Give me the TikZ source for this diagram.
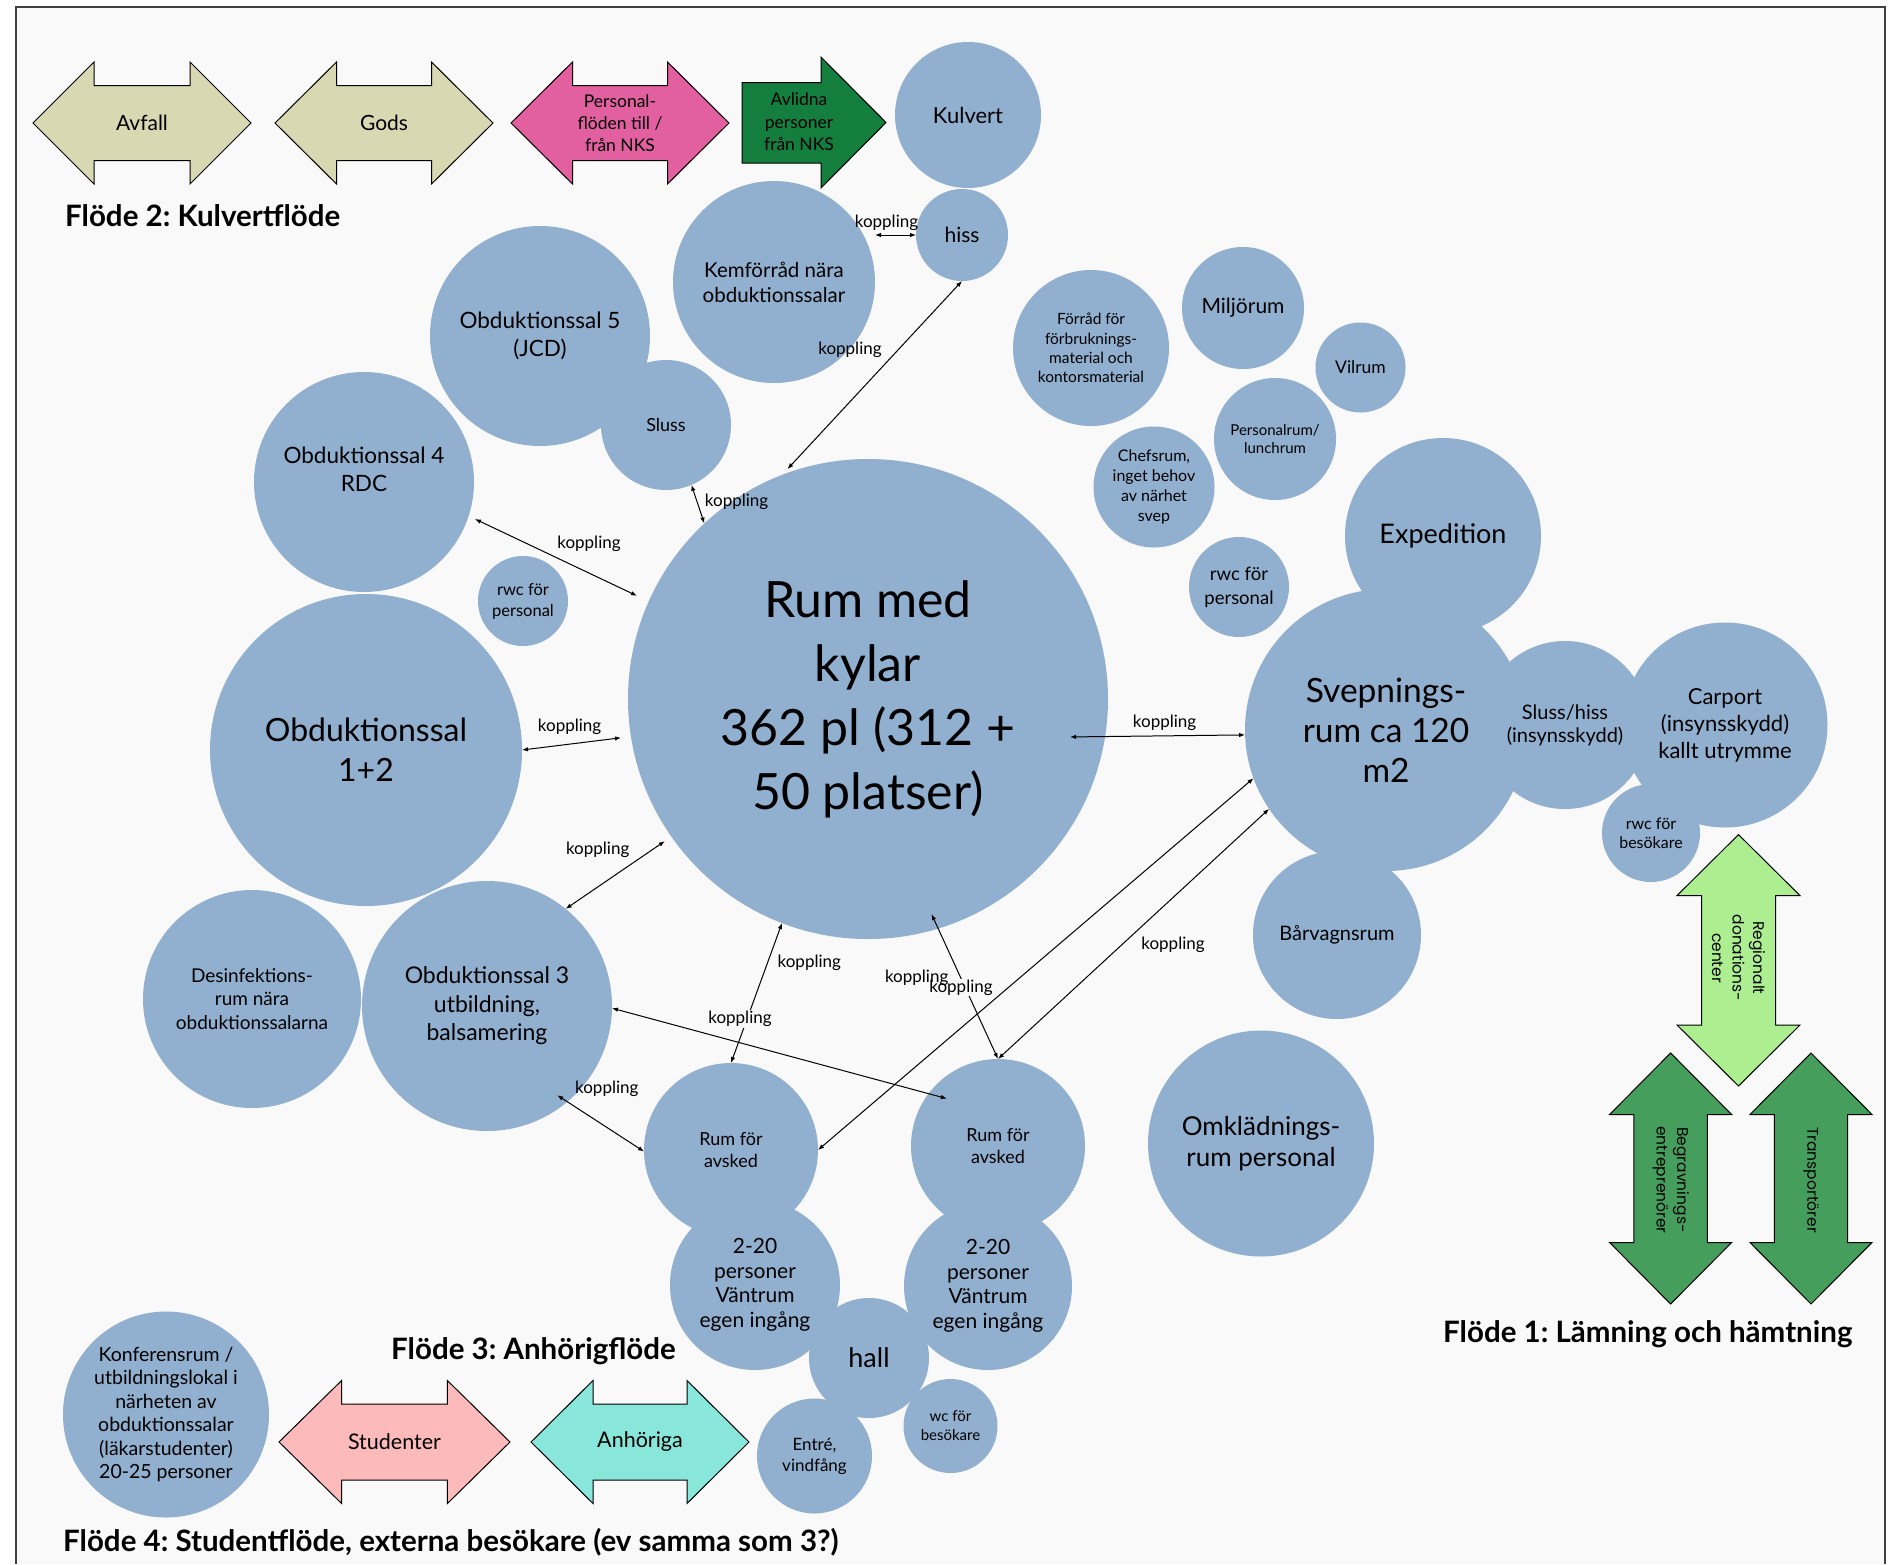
\documentclass[tikz,border=0pt]{standalone}
\usepackage{fontspec}
\setmainfont{Lato}
\newfontfamily\arrfont{Poppins}
\usetikzlibrary{arrows.meta,calc}
\definecolor{roomblue}{RGB}{145,175,206}
\definecolor{bgc}{RGB}{249,249,249}
\definecolor{khaki}{RGB}{216,216,178}
\definecolor{pinkA}{RGB}{227,96,160}
\definecolor{dkgreen}{RGB}{19,126,62}
\definecolor{ltgreen}{RGB}{172,238,144}
\definecolor{midgreen}{RGB}{70,158,92}
\definecolor{studpink}{RGB}{252,186,186}
\definecolor{tealA}{RGB}{136,230,218}
\newcommand\fz[2]{\fontsize{#1}{#2}\selectfont}
\newcommand\harr[7]{\draw[shapeline,fill=#7] ({#1-#3},#2) -- ({#1-#3+#4},{#2-#5}) -- ({#1-#3+#4},{#2-#6}) -- ({#1+#3-#4},{#2-#6}) -- ({#1+#3-#4},{#2-#5}) -- ({#1+#3},#2) -- ({#1+#3-#4},{#2+#5}) -- ({#1+#3-#4},{#2+#6}) -- ({#1-#3+#4},{#2+#6}) -- ({#1-#3+#4},{#2+#5}) -- cycle;}
\newcommand\varr[7]{\draw[shapeline,fill=#7] (#1,{#2-#3}) -- ({#1+#5},{#2-#3+#4}) -- ({#1+#6},{#2-#3+#4}) -- ({#1+#6},{#2+#3-#4}) -- ({#1+#5},{#2+#3-#4}) -- (#1,{#2+#3}) -- ({#1-#5},{#2+#3-#4}) -- ({#1-#6},{#2+#3-#4}) -- ({#1-#6},{#2-#3+#4}) -- ({#1-#5},{#2-#3+#4}) -- cycle;}
\frenchspacing
\begin{document}
\begin{tikzpicture}[x=1pt,y=-1pt,
  room/.style={circle,fill=roomblue,draw=none,inner sep=0pt,outer sep=0pt,minimum size=#1},
  txt/.style={align=center,inner sep=0pt,text=black},
  shapeline/.style={draw=black,line width=1pt,line join=miter},
  conn/.style={draw=black,line width=1pt,{Latex[length=6pt,width=4.5pt]}-{Latex[length=6pt,width=4.5pt]}},
  lbl/.style={inner sep=1pt,text=black,font={\fz{17}{20}}},
  lblf/.style={lbl,fill=bgc},
  title/.style={anchor=west,inner sep=0pt,text=black,font={\bfseries\fz{29.5}{34}}}]
\useasboundingbox (0,0) rectangle (1896,1564);
\fill[white] (0,0) rectangle (1896,1564);
\fill[bgc] (16,7) rectangle (1885,1564);
\draw[black!75,line width=1.2pt] (16,1564) -- (16,7) -- (1885,7) -- (1885,1564);

% ---- arrows (shapes)
\harr{142}{123}{109}{61}{61}{37.5}{khaki}
\harr{384}{123}{109}{61.5}{61}{37.5}{khaki}
\harr{620}{123}{109}{61.5}{61}{37.5}{pinkA}
\draw[shapeline,fill=dkgreen] (742,82.5) -- (821,82.5) -- (821,57) -- (886,122.5) -- (821,188) -- (821,163) -- (742,163) -- cycle;
\harr{394.5}{1442}{115.5}{62.6}{61.5}{38}{studpink}
\harr{640}{1442}{109}{62}{61.5}{38}{tealA}
\varr{1738.5}{960.3}{125.7}{61}{61.5}{37}{ltgreen}
\varr{1670.6}{1178.5}{125.5}{61.5}{61}{36.7}{midgreen}
\varr{1811}{1178.5}{125.5}{61.5}{61}{36.7}{midgreen}

\node[txt,font={\fz{21}{25}}] (tavfall) at (142,123) {Avfall};
\node[txt,font={\fz{21}{25}}] (tgods) at (384,123) {Gods};
\node[txt,font={\fz{17.5}{21.7}}] (tpers) at (620,123) {Personal-\\flöden till /\\från NKS};
\node[txt,font={\fz{17.5}{22.5}}] (tavl) at (799,122) {Avlidna\\personer\\från NKS};
\node[txt,font={\fz{21.5}{25}}] (tstud) at (394.5,1442) {Studenter};
\node[txt,font={\fz{21.5}{25}}] (tanh) at (640,1442) {Anhöriga};
\node[txt,rotate=-90,font={\arrfont\fz{15.5}{20.5}}] (treg) at (1738.5,958) {Regionalt\\donations-\\center};
\node[txt,rotate=-90,font={\arrfont\fz{15.5}{20.5}}] (tbeg) at (1670.8,1180) {Begravnings-\\entreprenörer};
\node[txt,rotate=-90,font={\arrfont\fz{15.5}{20.5}}] (ttra) at (1811,1180) {Transportörer};

% ---- titles
\node[title] (f2) at (65,216) {Flöde 2: Kulvertflöde};
\node[title] (f3) at (391,1351) {Flöde 3: Anhörigflöde};
\node[title] (f4) at (63,1542) {Flöde 4: Studentflöde, externa besökare (ev samma som 3?)};
\node[title] (f1) at (1443,1334.5) {Flöde 1: Lämning och hämtning};

% ---- circles
\node[room=146pt] (kulvert) at (968,115) {};
\node[room=92pt] (hiss) at (962,235) {};
\node[room=202pt] (kem) at (774,282) {};
\node[room=220pt] (obd5) at (540,336) {};
\node[room=130pt] (sluss) at (666,425) {};
\node[room=220pt] (obd4) at (364,482) {};
\node[room=90pt] (rwcl) at (523,601) {};
\node[room=312pt] (obd12) at (366,750) {};
\node[room=480pt] (rum) at (868,699) {};
\node[room=218pt] (desinf) at (252,999) {};
\node[room=250pt] (obd3) at (487,1006) {};
\node[room=170pt] (p220l) at (755,1285) {};
\node[room=168pt] (p220r) at (988,1286) {};
\node[room=174pt] (avsl) at (731,1150) {};
\node[room=174pt] (avsr) at (998,1146) {};
\node[room=120pt] (hall) at (869,1358) {};
\node[room=115pt] (entre) at (814.5,1456) {};
\node[room=94pt] (wcb) at (950.5,1426) {};
\node[room=206pt] (konf) at (166,1414.5) {};
\node[room=226pt] (omkl) at (1261,1143.5) {};
\node[room=168pt] (barv) at (1337,935) {};
\node[room=196pt] (exped) at (1443,536) {};
\node[room=168pt] (slusshiss) at (1565,725) {};
\node[room=205pt] (carport) at (1725,725) {};
\node[room=98pt] (rwcb) at (1651,833) {};
\node[room=282pt] (svep) at (1386,730) {};
\node[room=100pt] (rwcr) at (1239,587) {};
\node[room=121pt] (chef) at (1154,487) {};
\node[room=122pt] (persr) at (1275,439) {};
\node[room=90pt] (vilrum) at (1360.5,367.5) {};
\node[room=122pt] (miljo) at (1243,308) {};
\node[room=156pt] (forrad) at (1091,348) {};

% ---- circle texts
\node[txt,font={\fz{22}{26}}] (t-kulvert) at (kulvert) {Kulvert};
\node[txt,font={\fz{21}{25}}] (t-hiss) at (hiss) {hiss};
\node[txt,font={\fz{20.5}{25}}] (t-kem) at (kem) {Kemförråd nära\\obduktionssalar};
\node[txt,font={\fz{22.5}{28}}] (t-obd5) at (obd5) {Obduktionssal 5\\(JCD)};
\node[txt,font={\fz{18}{22}}] (t-sluss) at (sluss) {Sluss};
\node[txt,font={\fz{22.5}{28}}] (t-obd4) at (364,469) {Obduktionssal 4\\RDC};
\node[txt,font={\fz{16.5}{21}}] (t-rwcl) at (rwcl) {rwc för\\personal};
\node[txt,font={\fz{32}{40}}] (t-obd12) at (obd12) {Obduktionssal\\1+2};
\node[txt,font={\fz{50}{64}}] (t-rum) at (rum) {Rum med\\kylar\\362 pl (312 +\\50 platser)};
\node[txt,font={\fz{19}{23.5}}] (t-desinf) at (desinf) {Desinfektions-\\rum nära\\obduktionssalarna};
\node[txt,font={\fz{23}{28.5}}] (t-obd3) at (obd3) {Obduktionssal 3\\utbildning,\\balsamering};
\node[txt,font={\fz{18}{21.6}}] (t-avsl) at (avsl) {Rum för\\avsked};
\node[txt,font={\fz{18}{21.6}}] (t-avsr) at (avsr) {Rum för\\avsked};
\node[txt,font={\fz{21}{24.5}}] (t-p220l) at (p220l) {2-20\\personer\\Väntrum\\egen ingång};
\node[txt,font={\fz{21}{24.5}}] (t-p220r) at (p220r) {2-20\\personer\\Väntrum\\egen ingång};
\node[txt,font={\fz{27}{30}}] (t-hall) at (hall) {hall};
\node[txt,font={\fz{17}{21}}] (t-entre) at (entre) {Entré,\\vindfång};
\node[txt,font={\fz{15}{19}}] (t-wcb) at (wcb) {wc för\\besökare};
\node[txt,font={\fz{19.5}{23.4}}] (t-konf) at (konf) {Konferensrum /\\utbildningslokal i\\närheten av\\obduktionssalar\\(läkarstudenter)\\20-25 personer};
\node[txt,font={\fz{26}{30.6}}] (t-omkl) at (omkl) {Omklädnings-\\rum personal};
\node[txt,font={\fz{20}{24}}] (t-barv) at (barv) {Bårvagnsrum};
\node[txt,font={\fz{27}{30}}] (t-exped) at (exped) {Expedition};
\node[txt,font={\fz{20}{23}}] (t-slusshiss) at (slusshiss) {Sluss/hiss\\(insynsskydd)};
\node[txt,font={\fz{22}{27}}] (t-carport) at (carport) {Carport\\(insynsskydd)\\kallt utrymme};
\node[txt,font={\fz{16}{19}}] (t-rwcb) at (rwcb) {rwc för\\besökare};
\node[txt,font={\fz{33.5}{40}}] (t-svep) at (svep) {Svepnings-\\rum ca 120\\m2};
\node[txt,font={\fz{18.5}{24}}] (t-rwcr) at (rwcr) {rwc för\\personal};
\node[txt,font={\fz{16}{20}}] (t-chef) at (chef) {Chefsrum,\\inget behov\\av närhet\\svep};
\node[txt,font={\fz{15}{17.7}}] (t-persr) at (persr) {Personalrum/\\lunchrum};
\node[txt,font={\fz{17.5}{21}}] (t-vilrum) at (vilrum) {Vilrum};
\node[txt,font={\fz{21}{25}}] (t-miljo) at (miljo) {Miljörum};
\node[txt,font={\fz{15.5}{19.3}}] (t-forrad) at (forrad) {Förråd för\\förbruknings-\\material och\\kontorsmaterial};

% ---- connectors
\draw[conn] (kem.east |- hiss.west) -- (hiss.west);
\draw[conn,shorten >=8pt] (hiss.south) -- (rum.111);
\draw[conn] (sluss.-67) -- (rum.133);
\draw[conn,shorten <=7pt,shorten >=13pt] (obd4.-18) -- (rum.156);
\draw[conn,shorten >=10pt] (obd12.0) -- (rum.189);
\draw[conn,shorten >=8pt] (obd3.51) -- (rum.215);
\draw[conn] (rum.-111) -- (avsl.90);
\draw[conn,shorten <=-16pt] (rum.-73) -- (avsr.90);
\draw[conn,shorten <=-35pt] (rum.-9) -- (svep.182);
\draw[conn] (svep.200) -- (avsl.0);
\draw[conn] (svep.214) -- (avsr.90);
\draw[conn,shorten >=-19pt] (obd3.-1) -- (avsr.143);
\draw[conn,shorten <=-12pt] (obd3.-50) -- (avsl.181);

% ---- labels
\node[lbl] (la) at (886.5,222.7) {koppling};
\node[lbl] (lb) at (850,350) {koppling};
\node[lbl] (lc) at (736.6,501.7) {koppling};
\node[lbl] (ld) at (589,543.8) {koppling};
\node[lbl] (le) at (569.6,726.3) {koppling};
\node[lbl] (lf) at (597.7,850) {koppling};
\node[lbl] (li) at (1164.6,722.9) {koppling};
\node[lbl] (lg1) at (809.3,962.7) {koppling};
\node[lblf] (lh) at (961,987.3) {koppling};
\node[lbl] (lx) at (916.7,977.7) {koppling};
\node[lblf] (lg2) at (740,1019) {koppling};
\node[lbl] (lk) at (1173,944.8) {koppling};
\node[lbl] (lm) at (606.8,1089.2) {koppling};
\end{tikzpicture}
\end{document}
